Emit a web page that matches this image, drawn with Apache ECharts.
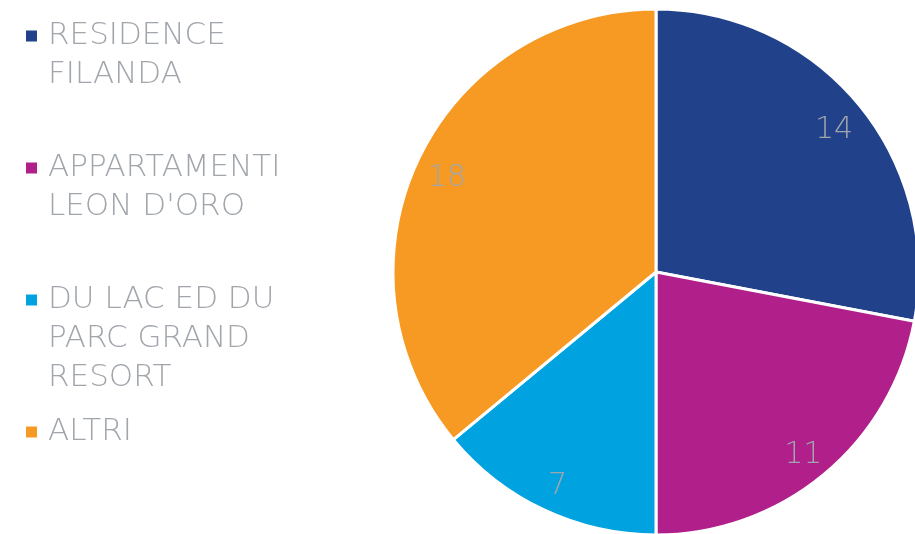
<!DOCTYPE html>
<html>
<head>
<meta charset="utf-8">
<script src="https://cdn.jsdelivr.net/npm/echarts@6/dist/echarts.min.js"></script>
<style>
  html, body { margin: 0; padding: 0; background: #fff; }
  #chart { width: 915px; height: 534px; }
</style>
</head>
<body>
<div id="chart"></div>
<script>
const names = ['RESIDENCE\nFILANDA', "APPARTAMENTI\nLEON D'ORO", 'DU LAC ED DU\nPARC GRAND\nRESORT', 'ALTRI'];
const values = [14, 11, 7, 18];

const palette = ['#21418a', '#b01f8a', '#00a3e0', '#f79a23'];
const textGray = '#a1a6ac';
const font = 'DejaVu Sans';
const lineH = 39;
// centre of the first legend line for each entry
const legendRows = [36, 168, 300, 432];

const chart = echarts.init(document.getElementById('chart'));

const pieData = names.map((n, i) => ({ name: n, value: values[i] }));

// one legend per entry so each keeps its own vertical spot.
// blank lines in front keep the icon level with the first text line
const legends = names.map((n, i) => {
    const lines = n.split('\n').length;
    return {
        data: [n],
        left: 24,
        top: legendRows[i] - lineH * (2 * lines - 1) / 2,
        padding: 0,
        itemWidth: 13,
        itemHeight: 13,
        icon: 'rect',
        selectedMode: false,
        formatter: name => '\n'.repeat(lines - 1) + name,
        textStyle: {
            color: textGray,
            fontFamily: font,
            fontWeight: 200,
            fontSize: 31,
            lineHeight: lineH,
            padding: [0, 0, 0, 5]
        }
    };
});

chart.setOption({
    color: palette,
    legend: legends,
    series: [
        {
            type: 'pie',
            center: [656, 272],
            radius: [0, 263],
            startAngle: 90,
            clockwise: true,
            silent: true,
            data: pieData,
            itemStyle: { borderColor: '#fff', borderWidth: 3 },
            label: { show: false },
            labelLine: { show: false }
        },
        {
            // transparent ring only used to place the value labels near the rim
            type: 'pie',
            center: [656, 272],
            radius: [194, 262],
            startAngle: 90,
            clockwise: true,
            silent: true,
            data: pieData,
            itemStyle: { color: 'rgba(0,0,0,0)' },
            label: {
                show: true,
                position: 'inside',
                formatter: '{c}',
                offset: [0, 5],
                color: textGray,
                fontFamily: font,
                fontWeight: 200,
                fontSize: 30
            },
            labelLine: { show: false }
        }
    ]
});
</script>
</body>
</html>
